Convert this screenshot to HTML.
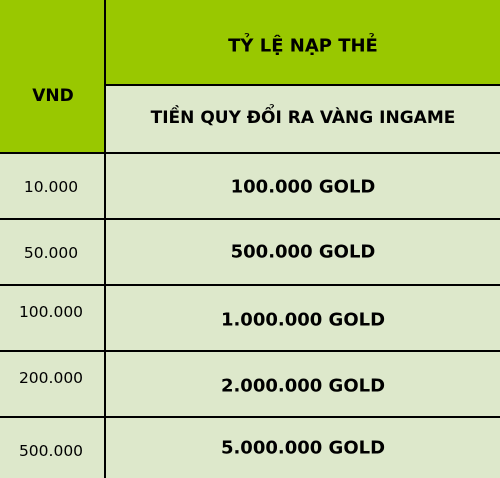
<!DOCTYPE html>
<html><head><meta charset="utf-8">
<style>
html,body{margin:0;padding:0;width:500px;height:478px;overflow:hidden;background:#dde8cb;font-family:"DejaVu Sans","Liberation Sans",sans-serif;color:#000}
.c{position:absolute;box-sizing:border-box}
.t{position:absolute;transform:translate(-50%,-50%);white-space:nowrap}
.b{font-weight:bold}
.hl{position:absolute;height:2px;background:#000}
.vl{position:absolute;width:2px;background:#000}
</style></head>
<body>
<div class="c" style="left:0;top:0;width:105px;height:152px;background:#99c800"></div>
<div class="c" style="left:105px;top:0;width:395px;height:85px;background:#99c800"></div>
<div class="vl" style="left:104px;top:0;height:478px"></div>
<div class="hl" style="left:105px;top:84px;width:395px"></div>
<div class="hl" style="left:0;top:152px;width:500px"></div>
<div class="hl" style="left:0;top:218px;width:500px"></div>
<div class="hl" style="left:0;top:284px;width:500px"></div>
<div class="hl" style="left:0;top:350px;width:500px"></div>
<div class="hl" style="left:0;top:416px;width:500px"></div>

<div class="t b" style="left:53px;top:96px;font-size:17px">VND</div>
<div class="t b" style="left:303px;top:46px;font-size:18px">TỶ LỆ NẠP THẺ</div>
<div class="t b" style="left:303px;top:118px;font-size:17px">TIỀN QUY ĐỔI RA VÀNG INGAME</div>

<div class="t" style="left:51px;top:187px;font-size:15.5px">10.000</div>
<div class="t b" style="left:303px;top:187px;font-size:18px">100.000 GOLD</div>
<div class="t" style="left:51px;top:253px;font-size:15.5px">50.000</div>
<div class="t b" style="left:303px;top:252px;font-size:18px">500.000 GOLD</div>
<div class="t" style="left:51px;top:312px;font-size:15.5px">100.000</div>
<div class="t b" style="left:303px;top:320px;font-size:18px">1.000.000 GOLD</div>
<div class="t" style="left:51px;top:378px;font-size:15.5px">200.000</div>
<div class="t b" style="left:303px;top:386px;font-size:18px">2.000.000 GOLD</div>
<div class="t" style="left:51px;top:451px;font-size:15.5px">500.000</div>
<div class="t b" style="left:303px;top:448px;font-size:18px">5.000.000 GOLD</div>
</body></html>
